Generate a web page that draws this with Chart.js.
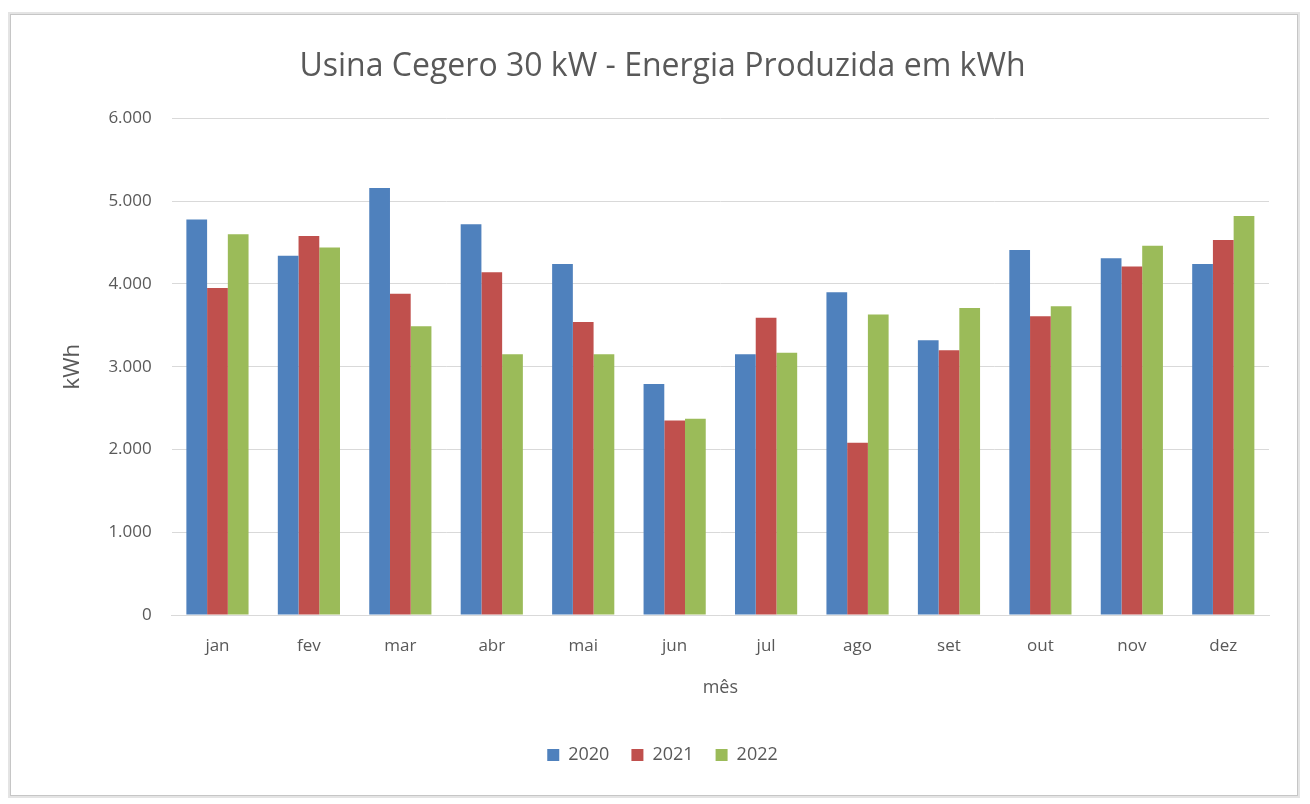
<!DOCTYPE html>
<html>
<head>
<meta charset="utf-8">
<script src="https://cdn.jsdelivr.net/npm/chart.js@4/dist/chart.umd.min.js"></script>
<style>
  html, body { margin: 0; padding: 0; background: #fff; }
  body { width: 1310px; height: 804px; position: relative; overflow: hidden; }
  #frame {
    position: absolute; left: 10px; top: 14px; width: 1286px; height: 780px;
    border: 1px solid #c6c6c6; box-shadow: 0 0 0 2px #e4e4e4;
  }
  #wrap { position: absolute; left: 0; top: 0; width: 1286px; height: 780px; }
</style>
</head>
<body>
<div id="frame"><div id="wrap"><canvas id="chart"></canvas></div></div>
<script>
const meses = ['jan', 'fev', 'mar', 'abr', 'mai', 'jun', 'jul', 'ago', 'set', 'out', 'nov', 'dez'];

const ano2020 = [4780, 4340, 5160, 4720, 4240, 2790, 3150, 3900, 3320, 4410, 4310, 4240];
const ano2021 = [3950, 4580, 3880, 4140, 3540, 2350, 3590, 2080, 3200, 3610, 4210, 4530];
const ano2022 = [4600, 4440, 3490, 3150, 3150, 2370, 3170, 3630, 3710, 3730, 4460, 4820];

const fonte = "'Open Sans', 'Noto Sans', sans-serif";
const cinza = '#595959';

const data = {
    labels: meses,
    datasets: [{
        label: '2020',
        data: ano2020,
        backgroundColor: '#4f81bd'
    }, {
        label: '2021',
        data: ano2021,
        backgroundColor: '#c0504d'
    }, {
        label: '2022',
        data: ano2022,
        backgroundColor: '#9bbb59'
    }]
};

const config = {
    type: 'bar',
    data: data,
    options: {
        responsive: true,
        maintainAspectRatio: false,
        animation: false,
        layout: { padding: { left: 45, right: 28, top: 8, bottom: 21 } },
        datasets: {
            bar: { categoryPercentage: 0.68, barPercentage: 1.0 }
        },
        plugins: {
            legend: {
                display: true,
                position: 'bottom',
                labels: {
                    boxWidth: 12, boxHeight: 12, padding: 22,
                    color: cinza,
                    font: { family: fonte, size: 18 }
                }
            },
            title: {
                display: true,
                text: 'Usina Cegero 30 kW - Energia Produzida em kWh',
                color: cinza,
                font: { family: fonte, size: 32, weight: 'normal' },
                padding: { top: 25, bottom: 32 }
            },
            tooltip: { enabled: false }
        },
        scales: {
            x: {
                grid: { display: false, drawTicks: false },
                border: { color: '#d9d9d9', width: 1 },
                ticks: { color: cinza, font: { family: fonte, size: 17 }, padding: 21 },
                title: {
                    display: true, text: 'mês', color: cinza,
                    font: { family: fonte, size: 18 }, padding: { top: 0, bottom: 25 }
                }
            },
            y: {
                min: 0, max: 6000,
                grid: { color: '#d9d9d9', drawTicks: false },
                border: { display: false },
                ticks: {
                    stepSize: 1000, color: cinza, padding: 20,
                    font: { family: fonte, size: 17 },
                    callback: v => v.toLocaleString('pt-BR')
                },
                title: {
                    display: true, text: 'kWh', color: cinza,
                    font: { family: fonte, size: 22 }, padding: { bottom: 2 }
                }
            }
        }
    }
};

const chart = new Chart(document.getElementById('chart'), config);
</script>
</body>
</html>
